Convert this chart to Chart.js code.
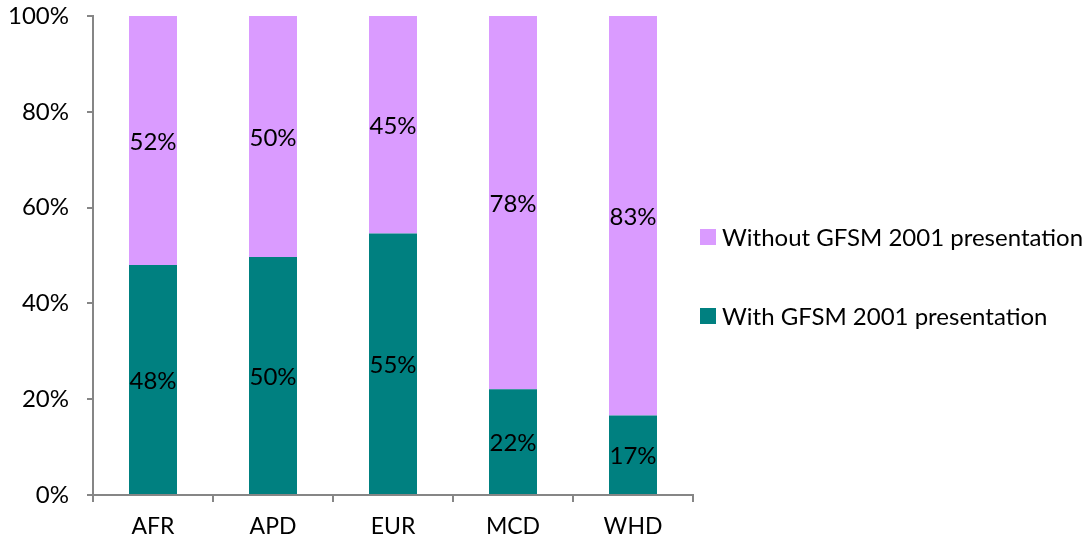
<!DOCTYPE html>
<html>
<head>
<meta charset="utf-8">
<script src="https://cdn.jsdelivr.net/npm/chart.js@4"></script>
<style>
  html, body { margin: 0; padding: 0; background: #fff; }
  #wrap { width: 1089px; height: 543px; }
</style>
</head>
<body>
<div id="wrap"><canvas id="gfsmChart" width="1089" height="543"></canvas></div>
<script>
const regions = ['AFR', 'APD', 'EUR', 'MCD', 'WHD'];
const withGfsm = [48, 49.7, 54.6, 22.1, 16.6];
const withoutGfsm = [52, 50.3, 45.4, 77.9, 83.4];
const yTicks = [0, 20, 40, 60, 80, 100];

const FONT = 'Lato, "Open Sans", sans-serif';
const axisGrey = '#868686';

// value labels in the middle of each segment
const segmentLabels = {
    id: 'segmentLabels',
    afterDatasetsDraw(chart) {
        const ctx = chart.ctx;
        ctx.save();
        ctx.font = '24px ' + FONT;
        ctx.fillStyle = '#000';
        ctx.textAlign = 'center';
        ctx.textBaseline = 'middle';
        chart.data.datasets.forEach((ds, i) => {
            chart.getDatasetMeta(i).data.forEach((bar, j) => {
                const c = bar.getCenterPoint();
                ctx.fillText(Math.round(ds.data[j]) + '%', c.x, c.y + 2);
            });
        });
        ctx.restore();
    }
};

// legend on the right, top item = top of stack
const sideLegend = {
    id: 'sideLegend',
    afterDraw(chart) {
        const ctx = chart.ctx;
        const items = chart.data.datasets.slice().reverse();
        ctx.save();
        ctx.font = '24px ' + FONT;
        ctx.textBaseline = 'middle';
        items.forEach((ds, k) => {
            const y = 237 + k * 79;
            ctx.fillStyle = ds.backgroundColor;
            ctx.fillRect(700, y - 8, 16, 16);
            ctx.fillStyle = '#000';
            ctx.fillText(ds.label, 722, y + 1);
        });
        ctx.restore();
    }
};

new Chart(document.getElementById('gfsmChart').getContext('2d'), {
    type: 'bar',
    data: {
        labels: regions,
        datasets: [
            {
                label: 'With GFSM 2001 presentation',
                data: withGfsm,
                backgroundColor: '#008080',
                barPercentage: 0.4,
                categoryPercentage: 1
            },
            {
                label: 'Without GFSM 2001 presentation',
                data: withoutGfsm,
                backgroundColor: '#DA9BFF',
                barPercentage: 0.4,
                categoryPercentage: 1
            }
        ]
    },
    options: {
        responsive: false,
        animation: false,
        layout: { padding: { left: 0, right: 396, top: 16, bottom: 0 } },
        plugins: {
            legend: { display: false },
            tooltip: { enabled: false }
        },
        scales: {
            x: {
                stacked: true,
                grid: {
                    offset: true,
                    drawOnChartArea: false,
                    color: axisGrey,
                    tickLength: 7,
                    lineWidth: 2
                },
                border: { color: axisGrey, width: 2 },
                ticks: { color: '#000', font: { size: 23, family: FONT }, padding: 11 },
                afterFit(scale) {
                    scale.height = 48;
                    scale.paddingLeft = 0;
                    scale.paddingRight = 0;
                }
            },
            y: {
                stacked: true,
                min: 0,
                max: 100,
                afterBuildTicks(scale) { scale.ticks = yTicks.map(v => ({ value: v })); },
                grid: {
                    drawOnChartArea: false,
                    color: axisGrey,
                    tickLength: 6,
                    lineWidth: 2
                },
                border: { color: axisGrey, width: 2 },
                ticks: {
                    color: '#000',
                    font: { size: 24, family: FONT },
                    padding: 18,
                    callback: v => v + '%'
                },
                afterFit(scale) {
                    scale.width = 93;
                    scale.paddingTop = 0;
                    scale.paddingBottom = 0;
                }
            }
        }
    },
    plugins: [segmentLabels, sideLegend]
});
</script>
</body>
</html>
